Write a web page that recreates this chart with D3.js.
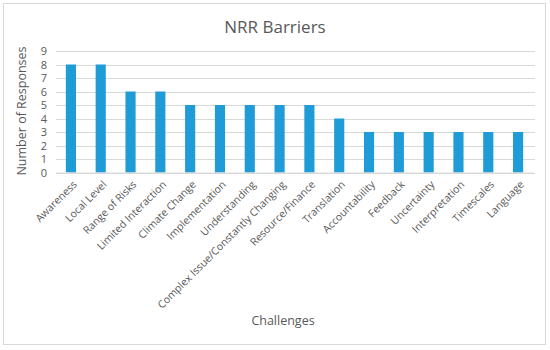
<!DOCTYPE html>
<html>
<head>
<meta charset="utf-8">
<script src="https://cdn.jsdelivr.net/npm/d3@7"></script>
<style>
  body { margin: 0; background: #fff; }
  text { font-family: "Open Sans", "Liberation Sans", sans-serif; fill: #595959; }
</style>
</head>
<body>
<script>
var w = 550, h = 350;
var categories = ["Awareness", "Local Level", "Range of Risks", "Limited Interaction",
  "Climate Change", "Implementation", "Understanding", "Complex Issue/Constantly Changing",
  "Resource/Finance", "Translation", "Accountability", "Feedback", "Uncertainty",
  "Interpretation", "Timescales", "Language"];
var responses = [8, 8, 6, 6, 5, 5, 5, 5, 5, 4, 3, 3, 3, 3, 3, 3];
var yTicks = [0, 1, 2, 3, 4, 5, 6, 7, 8, 9];

var svg = d3.select("body").append("svg")
  .attr("width", w)
  .attr("height", h);

// chart border
svg.append("rect")
  .attr("x", 3.5).attr("y", 3.5)
  .attr("width", 542).attr("height", 341)
  .attr("fill", "#fff")
  .attr("stroke", "#d9d9d9");

var xScale = d3.scaleBand()
  .domain(categories)
  .range([56, 533])
  .paddingInner(0.66)
  .paddingOuter(0.33);

var yScale = d3.scaleLinear()
  .domain([0, 9])
  .range([172.5, 51]);

// gridlines
svg.append("g").selectAll("line")
  .data(yTicks)
  .enter()
  .append("line")
  .attr("x1", 56).attr("x2", 535)
  .attr("y1", function (d) { return Math.round(yScale(d)) + 0.5; })
  .attr("y2", function (d) { return Math.round(yScale(d)) + 0.5; })
  .attr("stroke", "#d9d9d9");

// bars
svg.append("g").selectAll("rect")
  .data(responses)
  .enter()
  .append("rect")
  .attr("x", function (d, i) { return xScale(categories[i]); })
  .attr("y", function (d) { return yScale(d); })
  .attr("width", xScale.bandwidth())
  .attr("height", function (d) { return yScale(0) - yScale(d); })
  .attr("fill", "#1f9bd7");

// y axis labels
var yAxis = d3.axisLeft(yScale).tickValues(yTicks).tickSize(0).tickPadding(9);
var gy = svg.append("g").attr("transform", "translate(56,0)").call(yAxis);
gy.select(".domain").remove();
gy.selectAll("text").style("font-size", "11px").attr("fill", "#595959");

// x axis labels
var xAxis = d3.axisBottom(xScale).tickSize(0).tickPadding(0);
var gx = svg.append("g").attr("transform", "translate(0," + yScale(0) + ")").call(xAxis);
gx.select(".domain").attr("stroke", "#d9d9d9");
gx.selectAll("text")
  .style("font-size", "10.5px")
  .attr("fill", "#595959")
  .attr("text-anchor", "end")
  .attr("dy", "0.35em")
  .attr("transform", "translate(4,10) rotate(-45)");

// titles
svg.append("text")
  .attr("x", 275).attr("y", 33)
  .attr("text-anchor", "middle")
  .style("font-size", "17px")
  .text("NRR Barriers");

svg.append("text")
  .attr("transform", "translate(26,111) rotate(-90)")
  .attr("text-anchor", "middle")
  .style("font-size", "12.5px")
  .text("Number of Responses");

svg.append("text")
  .attr("x", 283).attr("y", 325)
  .attr("text-anchor", "middle")
  .style("font-size", "12.5px")
  .text("Challenges");
</script>
</body>
</html>
